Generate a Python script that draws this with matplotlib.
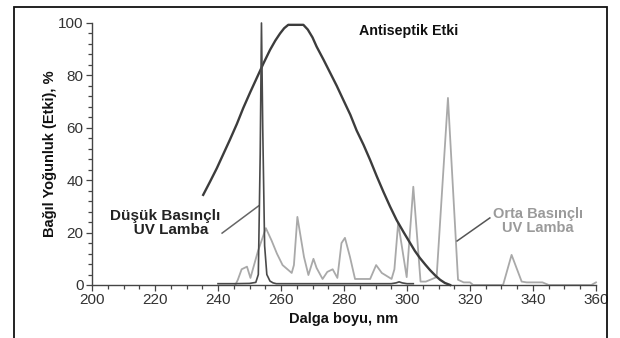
import matplotlib
matplotlib.use("Agg")
import matplotlib.pyplot as plt
from matplotlib.patches import Rectangle
from matplotlib.ticker import MultipleLocator

plt.rcParams['font.family'] = ['Liberation Sans', 'DejaVu Sans']

# Antiseptic effect curve
anti_x = [235.3, 237.5, 239.6, 241.7, 243.8, 246, 248, 250.2, 252.3, 254.4, 256.5, 258.2, 259.7, 261, 262.3,
          267.1, 268.5, 270, 271.3, 273.5, 275.6, 277.7, 279.8, 282, 284, 286.2, 288.3, 290.4, 292.5, 294.6,
          296.7, 299, 301, 302.5, 304.1, 305.8, 307.3, 309, 310.5, 312, 313.7]
anti_y = [34.4, 39.5, 44.5, 50, 55.5, 61.5, 67.5, 73.5, 79, 84.5, 89.7, 93.3, 96, 98, 99.3,
          99.3, 97.5, 94.5, 91, 86, 81, 76, 70.6, 65, 59, 53.5, 47.7, 41.5, 35.6, 30,
          24.8, 20, 16, 13, 10.3, 7.8, 5.7, 3.6, 2, 0.8, 0]

# Low pressure UV lamp
low_x = [240, 245, 250, 252, 252.8, 253.4, 253.8, 254.2, 254.8, 255.5, 256.5, 257.5, 258.5, 265, 280,
         290, 295, 296.5, 297.5, 298.5, 300, 302]
low_y = [0.5, 0.5, 0.6, 1, 4, 50, 100, 60, 15, 4, 1.5, 0.8, 0.5, 0.5, 0.5,
         0.5, 0.5, 0.8, 1.2, 0.8, 0.5, 0.5]

# Medium pressure UV lamp
med_x = [245.5, 246.3, 247.5, 249.2, 250.3, 252.7, 255.2, 257, 258.7, 260.5, 263.4, 264.1, 265.2, 267.3,
         268.7, 270.3, 271.3, 273.2, 274.7, 276.4, 277.9, 279.2, 280.3, 281.9, 283.5, 288.3, 290.2, 292,
         295.1, 296, 297.2, 299.9, 302, 304.3, 306, 309.4, 313, 316.2, 318, 320, 321,
         330.5, 333.2, 336.4, 338, 343, 345, 358.5, 360]
med_y = [0, 2, 6, 7, 2.7, 13, 21.7, 17, 12, 7.6, 4.6, 7.6, 26, 10.7,
         3.8, 10, 6.5, 2.3, 5, 6, 2.7, 16, 18, 10.7, 2.3, 2.3, 7.6, 4.6,
         2.3, 6, 23.7, 3, 37.5, 1.3, 1.3, 3, 71.4, 2, 1, 1, 0,
         0, 11.5, 1.3, 1, 1, 0, 0, 1]

xticks = [200, 220, 240, 260, 280, 300, 320, 340, 360]
yticks = [0, 20, 40, 60, 80, 100]

fig = plt.figure(figsize=(6.2, 3.38), dpi=100)
ax = fig.add_axes([92/620, 1-285/338, (596-92)/620, (285-23)/338])

ax.plot(med_x, med_y, color='#a9a9a9', lw=1.3, zorder=2, clip_on=False)
ax.plot(anti_x, anti_y, color='#3c3c3c', lw=1.7, zorder=3, clip_on=False)
ax.plot(low_x, low_y, color='#4a4a4a', lw=1.2, zorder=4, clip_on=False)

ax.set_xlim(200, 360)
ax.set_ylim(0, 100)
ax.set_xticks(xticks)
ax.set_yticks(yticks)
ax.xaxis.set_minor_locator(MultipleLocator(5))
ax.yaxis.set_minor_locator(MultipleLocator(4))
ax.tick_params(axis='both', which='major', labelsize=11, labelcolor='#333333', color='#444444',
               length=4, width=0.9, pad=2)
ax.tick_params(axis='both', which='minor', color='#444444', length=3, width=0.9)
for s in ['top', 'right']:
    ax.spines[s].set_visible(False)
for s in ['left', 'bottom']:
    ax.spines[s].set_color('#444444')
    ax.spines[s].set_linewidth(1.0)

ax.set_xlabel('Dalga boyu, nm', fontsize=10.5, fontweight='bold', labelpad=3, color='#111111')
ax.set_ylabel('Bağıl Yoğunluk (Etki), %', fontsize=10.5, fontweight='bold', labelpad=1, color='#111111')

ax.text(300.5, 97, 'Antiseptik Etki', fontsize=10.3, fontweight='bold', ha='center', va='center',
        color='#111111')
ax.text(223.2, 23.5, 'Düşük Basınçlı\n   UV Lamba', fontsize=11, fontweight='bold', ha='center',
        va='center', color='#222222', linespacing=1.0)
ax.plot([241.3, 252.9], [19.8, 30.2], color='#666666', lw=1.1, zorder=3)
ax.text(341.6, 24.5, 'Orta Basınçlı\nUV Lamba', fontsize=10.5, fontweight='bold', ha='center',
        va='center', color='#9a9a9a', linespacing=1.0)
ax.plot([315.9, 326.3], [16.8, 25.6], color='#555555', lw=1.1, zorder=3)

frame = Rectangle((14/620, -0.2), (607-14)/620, (338-7)/338 + 0.2, transform=fig.transFigure,
                  fill=False, edgecolor='#111111', lw=1.3, clip_on=False)
fig.patches.append(frame)

fig.savefig('out.png', dpi=100)
